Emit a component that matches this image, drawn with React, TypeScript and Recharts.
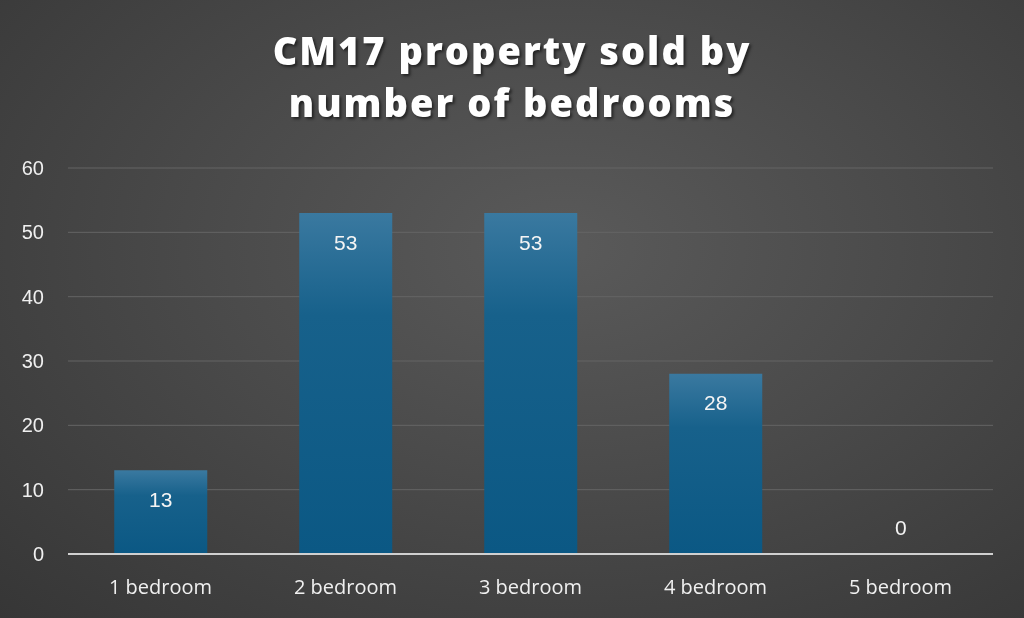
import { BarChart, Bar, XAxis, YAxis, CartesianGrid, LabelList, Cell } from "recharts";

const categories = ["1 bedroom", "2 bedroom", "3 bedroom", "4 bedroom", "5 bedroom"];
const sold = [13, 53, 53, 28, 0];
const yTicks = [0, 10, 20, 30, 40, 50, 60];

const data = categories.map((name, i) => ({ name, sold: sold[i] }));

// Excel puts the zero label above the axis, the rest inside the bar top
function ValueLabel(props: any) {
  const { x, y, width, height, value } = props;
  const zero = Number(value) === 0;
  const cy = zero ? y + height - 27 : y + 29;
  return (
    <text
      x={x + width / 2}
      y={cy}
      textAnchor="middle"
      dominantBaseline="central"
      fill="#f4f4f4"
      fontSize={21}
      fontFamily="Liberation Sans, Arial, sans-serif"
    >
      {value}
    </text>
  );
}

export default function App() {
  return (
    <div
      style={{
        position: "fixed",
        left: 0,
        top: 0,
        width: 1024,
        height: 618,
        background:
          "radial-gradient(ellipse at 55% 40%, #5a5a5a 0%, #4a4a4a 45%, #363636 100%)",
        overflow: "hidden",
      }}
    >
      <div
        style={{
          position: "absolute",
          left: 0,
          top: 24,
          width: 1024,
          textAlign: "center",
          color: "#ffffff",
          fontFamily: "Open Sans, sans-serif",
          fontWeight: 800,
          fontSize: 38,
          lineHeight: "52px",
          letterSpacing: 2,
          textShadow: "2px 2px 3px rgba(0,0,0,0.55)",
        }}
      >
        CM17 property sold by
        <br />
        number of bedrooms
      </div>
      <BarChart
        width={1024}
        height={618}
        data={data}
        margin={{ top: 168, right: 31, bottom: 0, left: 0 }}
        barCategoryGap="25%"
        style={{ position: "absolute", left: 0, top: 0 }}
      >
        <defs>
          <linearGradient id="barFill" x1="0" y1="0" x2="0" y2="1">
            <stop offset="0%" stopColor="#3a79a0" />
            <stop offset="30%" stopColor="#17618b" />
            <stop offset="100%" stopColor="#0b5884" />
          </linearGradient>
        </defs>
        <CartesianGrid vertical={false} stroke="#646464" strokeWidth={1} />
        <XAxis
          dataKey="name"
          height={64}
          axisLine={{ stroke: "#d0d0d0", strokeWidth: 2 }}
          tickLine={false}
          tickSize={0}
          tickMargin={26}
          tick={{ fill: "#f0f0f0", fontSize: 20, fontFamily: "Open Sans, sans-serif" }}
        />
        <YAxis
          width={68}
          domain={[0, 60]}
          ticks={yTicks}
          axisLine={false}
          tickLine={false}
          tickSize={0}
          tickMargin={24}
          tick={{ fill: "#f0f0f0", fontSize: 20, fontFamily: "Liberation Sans, Arial, sans-serif" }}
        />
        <Bar dataKey="sold" fill="url(#barFill)" minPointSize={1} isAnimationActive={false}>
          {data.map((d, i) => (
            <Cell key={`cell-${i}`} fill={d.sold === 0 ? "transparent" : "url(#barFill)"} />
          ))}
          <LabelList dataKey="sold" content={<ValueLabel />} />
        </Bar>
      </BarChart>
    </div>
  );
}
